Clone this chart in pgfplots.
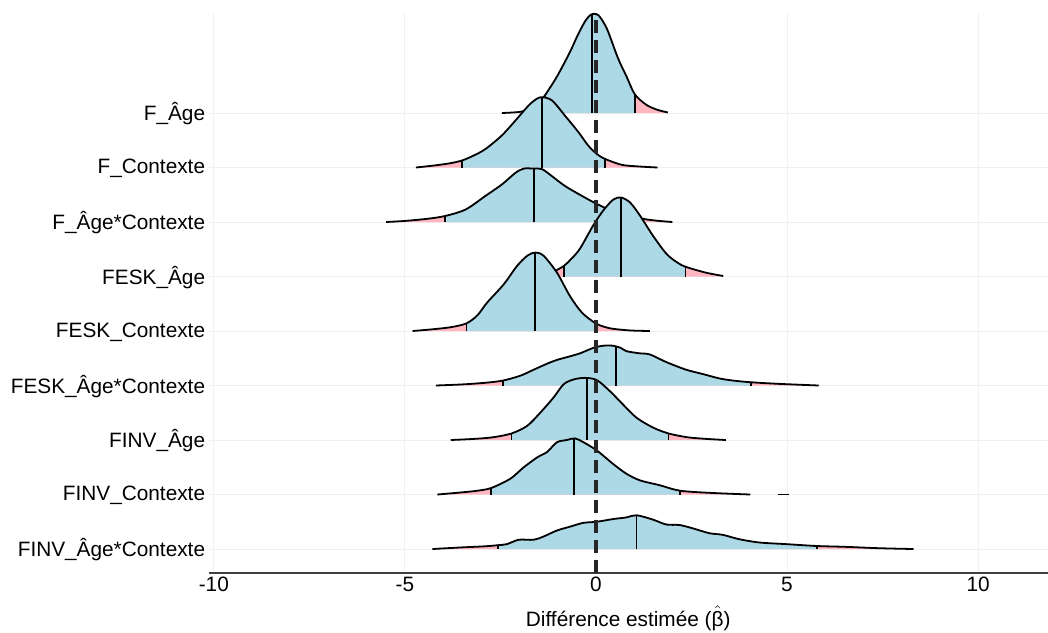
\documentclass[border=0pt]{standalone}
\usepackage{fontspec}
\setmainfont{Liberation Sans}
\usepackage{pgfplots}
\pgfplotsset{compat=1.18}
\usepackage{pgfplotstable}
\usepgfplotslibrary{fillbetween}
\definecolor{lblue}{HTML}{ADD8E6}
\definecolor{lpink}{HTML}{FFB6C1}
\tikzset{fill between/on layer=main}

% F_Age (k=9)
\pgfplotstableread{
x h
-2.46 0.00
-2.0 0.02
-1.7 0.08
-1.5 0.18
-1.33 0.33
-1.02 0.67
-0.68 1.12
-0.47 1.44
-0.27 1.70
-0.14 1.80
-0.04 1.82
0.07 1.79
0.20 1.66
0.32 1.49
0.58 1.00
0.80 0.67
1.02 0.34
1.32 0.15
1.6 0.06
1.88 0.01
}\rA
% F_Contexte (k=8)
\pgfplotstableread{
x h
-4.71 0.00
-4.2 0.04
-3.8 0.08
-3.50 0.13
-3.2 0.22
-2.89 0.34
-2.46 0.59
-2.11 0.86
-1.76 1.14
-1.55 1.26
-1.41 1.29
-1.15 1.23
-0.81 0.95
-0.46 0.65
-0.20 0.40
0.02 0.25
0.23 0.16
0.67 0.05
1.1 0.02
1.61 0.00
}\rB
% F_Age*Contexte (k=7)
\pgfplotstableread{
x h
-5.49 0.00
-5.0 0.02
-4.4 0.06
-3.95 0.11
-3.41 0.23
-2.89 0.48
-2.46 0.69
-2.11 0.90
-1.89 0.98
-1.63 0.98
-1.41 0.97
-1.15 0.84
-0.81 0.66
-0.37 0.48
-0.03 0.35
0.3 0.24
0.6 0.16
0.95 0.10
1.3 0.05
1.65 0.02
2.0 0.00
}\rC
% FESK_Age (k=6)
\pgfplotstableread{
x h
-1.6 0.00
-1.3 0.04
-1.05 0.11
-0.83 0.20
-0.65 0.32
-0.42 0.51
-0.07 0.94
0.19 1.21
0.45 1.41
0.65 1.45
0.89 1.36
1.15 1.12
1.49 0.75
1.84 0.42
2.1 0.27
2.34 0.18
2.88 0.07
3.33 0.01
}\rD
% FESK_Contexte (k=5)
\pgfplotstableread{
x h
-4.80 0.00
-4.3 0.03
-3.8 0.07
-3.39 0.14
-3.1 0.29
-2.85 0.52
-2.41 0.86
-2.07 1.19
-1.80 1.38
-1.59 1.44
-1.37 1.38
-1.02 1.07
-0.68 0.64
-0.37 0.34
-0.03 0.15
0.2 0.08
0.45 0.04
0.9 0.01
1.41 0.00
}\rE
% FESK_Age*Contexte (k=4)
\pgfplotstableread{
x h
-4.19 0.00
-3.5 0.02
-2.9 0.05
-2.44 0.09
-1.98 0.18
-1.63 0.29
-1.28 0.40
-1.02 0.47
-0.76 0.52
-0.42 0.59
-0.07 0.69
0.19 0.73
0.45 0.73
0.65 0.69
0.80 0.63
1.15 0.59
1.41 0.57
1.84 0.43
2.36 0.29
2.80 0.21
3.23 0.13
3.6 0.09
4.05 0.06
4.8 0.03
5.83 0.00
}\rF
% FINV_Age (k=3)
\pgfplotstableread{
x h
-3.80 0.00
-3.2 0.02
-2.7 0.05
-2.21 0.12
-1.80 0.26
-1.46 0.50
-1.11 0.78
-0.85 1.02
-0.59 1.11
-0.29 1.14
0.02 1.10
0.36 0.90
0.71 0.65
1.06 0.41
1.49 0.23
1.90 0.12
2.4 0.05
2.9 0.02
3.40 0.00
}\rG
% FINV_Contexte (k=2)
\pgfplotstableread{
x h
-4.15 0.00
-3.5 0.04
-3.1 0.07
-2.74 0.12
-2.24 0.29
-1.89 0.50
-1.54 0.68
-1.28 0.78
-1.02 0.96
-0.76 1.00
-0.55 1.03
-0.33 0.96
0.02 0.81
0.45 0.56
0.80 0.38
1.15 0.26
1.67 0.17
2.20 0.07
3.0 0.03
4.04 0.00
}\rH
% FINV_Age*Contexte (k=1)
\pgfplotstableread{
x h
-4.28 0.00
-3.5 0.03
-2.9 0.05
-2.57 0.07
-2.33 0.09
-2.02 0.17
-1.63 0.17
-1.37 0.23
-1.02 0.34
-0.68 0.41
-0.33 0.48
0.02 0.50
0.45 0.55
0.80 0.58
1.06 0.62
1.49 0.54
1.84 0.45
2.19 0.44
2.53 0.38
2.97 0.29
3.32 0.26
3.75 0.18
4.27 0.12
4.97 0.09
5.79 0.055
6.53 0.04
7.4 0.015
8.31 0.00
}\rI

% #1 table, #2 baseline, #3 ql, #4 top at ql, #5 median, #6 top at median, #7 qr, #8 top at qr
\newcommand{\ridge}[8]{%
  \addplot[draw=none, smooth, name path=c#2] table[x=x, y expr=\thisrow{h}+#2] {#1};
  \addplot[draw=none, name path=b#2] table[x=x, y expr=#2] {#1};
  \addplot[lpink, draw=none] fill between[of=c#2 and b#2];
  \addplot[lblue, draw=none] fill between[of=c#2 and b#2, soft clip={domain=#3:#7}];
  \addplot[black, line width=0.85pt] coordinates {(#3,#2) (#3,#4)};
  \addplot[black, line width=0.85pt] coordinates {(#5,#2) (#5,#6)};
  \addplot[black, line width=0.85pt] coordinates {(#7,#2) (#7,#8)};
  \addplot[black, line width=0.9pt, smooth] table[x=x, y expr=\thisrow{h}+#2] {#1};
}

\begin{document}
\begin{tikzpicture}
\begin{axis}[
  scale only axis, width=419.75pt, height=280pt,
  xmin=-10.14, xmax=11.83, ymin=0.56, ymax=10.835,
  axis x line*=bottom, axis y line*=left,
  x axis line style={-, black!75, line width=0.6pt},
  y axis line style={draw=none},
  xtick={-10,-5,0,5,10}, xticklabels={-10,-5,0,5,10},
  ytick={1,2,3,4,5,6,7,8,9},
  yticklabels={FINV\_Âge*Contexte, FINV\_Contexte, FINV\_Âge, FESK\_Âge*Contexte, FESK\_Contexte, FESK\_Âge, F\_Âge*Contexte, F\_Contexte, F\_Âge},
  major tick length=0pt,
  grid=major, major grid style={black!6, line width=0.5pt},
  tick label style={font=\fontsize{10.4}{12}\selectfont, black},
  yticklabel style={anchor=east, inner sep=0pt, xshift=-1.5pt, yshift=-0.5pt},
  xticklabel style={anchor=north, inner sep=0pt, yshift=-2pt},
  xlabel={Différence estimée ($\hat{\mbox{β}}$)},
  xlabel style={font=\fontsize{10.4}{12}\selectfont, at={(axis description cs:0.5,0)}, anchor=base, inner sep=0pt, yshift=-26.5pt},
]
\ridge{\rA}{9}{-1.33}{9.33}{-0.11}{10.81}{1.02}{9.34}
\ridge{\rB}{8}{-3.50}{8.13}{-1.41}{9.29}{0.23}{8.16}
\ridge{\rC}{7}{-3.95}{7.11}{-1.63}{7.98}{0.95}{7.10}
\ridge{\rD}{6}{-0.83}{6.20}{0.65}{7.45}{2.34}{6.18}
\ridge{\rE}{5}{-3.39}{5.14}{-1.59}{6.44}{-0.03}{5.15}
\ridge{\rF}{4}{-2.44}{4.09}{0.52}{4.72}{4.05}{4.06}
\ridge{\rG}{3}{-2.21}{3.12}{-0.24}{4.14}{1.90}{3.12}
\ridge{\rH}{2}{-2.74}{2.12}{-0.57}{3.03}{2.20}{2.07}
\addplot[black, line width=0.9pt] coordinates {(4.77,2) (5.04,2)};
\ridge{\rI}{1}{-2.57}{1.07}{1.06}{1.62}{5.79}{1.055}
\addplot[black!85, line width=1.7pt, dash pattern=on 6.5pt off 3.5pt] coordinates {(0,0.56) (0,10.835)};
\end{axis}
\pgfresetboundingbox
\path ([xshift=-104.25pt,yshift=-29.5pt]current axis.south west) rectangle ([yshift=6.5pt]current axis.north east);
\end{tikzpicture}
\end{document}
